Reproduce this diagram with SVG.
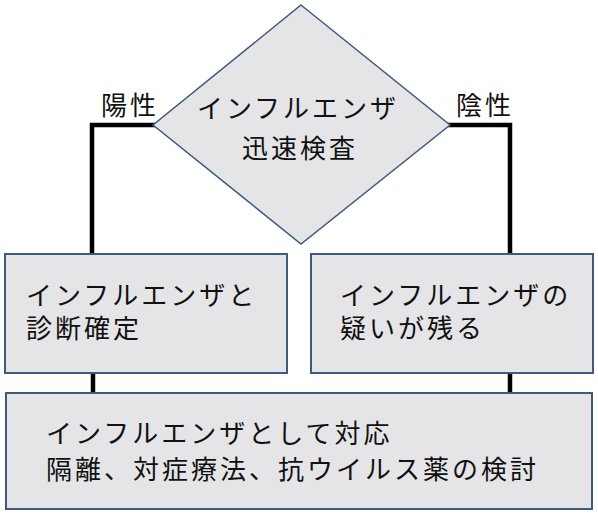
<svg xmlns="http://www.w3.org/2000/svg" width="598" height="514" viewBox="0 0 598 514">
<style>
.shape{fill:#e5e5e8;stroke:#3e5a80;stroke-width:2}
.t{font-family:"Liberation Serif","Noto Sans CJK JP",serif;font-size:26px;fill:#111;letter-spacing:3px}
.c{fill:none;stroke:#000;stroke-width:4.5;stroke-linejoin:miter;stroke-linecap:square}
</style>
<rect width="598" height="514" fill="#fff"/>
<g id="connectors">
<polyline class="c" points="153,125 92,125 92,253"/>
<polyline class="c" points="450,125 510,125 510,253"/>
<line class="c" x1="93" y1="374" x2="93" y2="392"/>
<line class="c" x1="510" y1="374" x2="510" y2="392"/>
</g>
<g id="label-positive"><text class="t" x="101" y="115">陽性</text></g>
<g id="label-negative"><text class="t" x="456" y="115">陰性</text></g>
<g id="test">
<polygon class="shape" points="301,5 450,125 301,244 153,125" style="stroke-width:1.5"/>
<text class="t" x="298" y="118" text-anchor="middle">インフルエンザ</text>
<text class="t" x="300" y="158" text-anchor="middle">迅速検査</text>
</g>
<g id="confirmed">
<rect class="shape" x="5" y="254" width="282" height="119"/>
<text class="t" x="26" y="305">インフルエンザと</text>
<text class="t" x="26" y="338">診断確定</text>
</g>
<g id="suspected">
<rect class="shape" x="311" y="254" width="282" height="119"/>
<text class="t" x="340" y="305">インフルエンザの</text>
<text class="t" x="340" y="338">疑いが残る</text>
</g>
<g id="treatment">
<rect class="shape" x="6" y="393" width="586" height="116"/>
<text class="t" x="46" y="443">インフルエンザとして対応</text>
<text class="t" x="46" y="479">隔離、対症療法、抗ウイルス薬の検討</text>
</g>
</svg>
